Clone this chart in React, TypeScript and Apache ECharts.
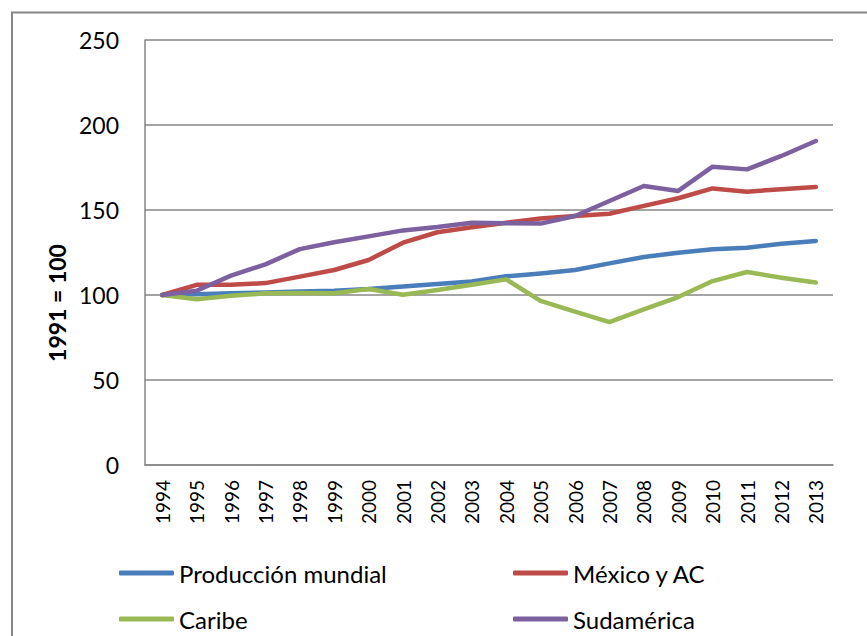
import React, { useEffect, useRef } from "react";
import * as echarts from "echarts";

const years = ["1994","1995","1996","1997","1998","1999","2000","2001","2002","2003","2004","2005","2006","2007","2008","2009","2010","2011","2012","2013"];
const produccionMundial = [100, 100.5, 101, 101.5, 102, 102.5, 103.5, 105, 106.5, 108, 111, 112.7, 114.7, 118.6, 122.4, 124.9, 126.9, 127.8, 130.2, 131.8];
const mexicoYAC = [100, 106, 106, 107, 110.8, 114.7, 120.6, 130.8, 136.9, 139.8, 142.5, 145, 146.5, 147.8, 152.4, 156.9, 162.7, 160.8, 162.2, 163.5];
const caribe = [100, 97.5, 99.5, 101, 101.2, 101, 103.5, 100.2, 103, 106, 109.2, 96.5, 90.2, 84.1, 91.6, 98.8, 108.2, 113.5, 110.2, 107.3];
const sudamerica = [100, 102.5, 111.4, 118, 127, 131, 134.5, 138, 140, 142.5, 142.2, 142, 146.5, 155.3, 164.1, 161.2, 175.5, 173.9, 181.8, 190.6];
const yTicks = { min: 0, max: 250, interval: 50 };
const yTitle = "1991 = 100";

const names = ["Producción mundial", "México y AC", "Caribe", "Sudamérica"];
const colors = ["#4a7ebb", "#be4b48", "#98b954", "#7d60a0"];
const seriesData = [produccionMundial, mexicoYAC, caribe, sudamerica];

export default function App() {
  const ref = useRef<HTMLDivElement>(null);
  useEffect(() => {
    if (!ref.current) return;
    const chart = echarts.init(ref.current, null, { renderer: "svg" });
    const font = "Lato";
    const legendPos = [
      { left: 119, top: 561 },
      { left: 513, top: 561 },
      { left: 119, top: 607 },
      { left: 513, top: 607 },
    ];
    chart.setOption({
      animation: false,
      backgroundColor: "#ffffff",
      textStyle: { fontFamily: font },
      grid: { left: 145, right: 34, top: 40, bottom: 171, containLabel: false },
      legend: names.map((n, i) => ({
        data: [n],
        left: legendPos[i].left,
        top: legendPos[i].top,
        padding: 0,
        icon: "roundRect",
        itemWidth: 55,
        itemHeight: 5,
        textStyle: { fontFamily: font, fontSize: 24, color: "#000" },
      })),
      xAxis: {
        type: "category",
        data: years,
        boundaryGap: true,
        axisLine: { show: true, lineStyle: { color: "#868686", width: 1.5 } },
        axisTick: { show: false },
        axisLabel: { rotate: 90, margin: 15, fontFamily: font, fontSize: 19, color: "#000" },
        splitLine: { show: false },
      },
      yAxis: {
        type: "value",
        min: yTicks.min,
        max: yTicks.max,
        interval: yTicks.interval,
        axisLine: { show: true, lineStyle: { color: "#868686", width: 1.5 } },
        axisTick: { show: false },
        axisLabel: { margin: 26, fontFamily: font, fontSize: 23, color: "#000" },
        splitLine: { show: true, lineStyle: { color: "#868686", width: 1.5 } },
      },
      graphic: [
        {
          type: "rect",
          shape: { x: 12, y: 12.5, width: 900, height: 700 },
          style: { fill: "none", stroke: "#868686", lineWidth: 2 },
          silent: true,
          z: -1,
        },
        {
          type: "text",
          x: 57,
          y: 303,
          rotation: Math.PI / 2,
          style: {
            text: yTitle,
            fontFamily: font,
            fontSize: 23,
            fontWeight: "bold",
            fill: "#000",
            align: "center",
            verticalAlign: "middle",
          },
        },
      ],
      series: names.map((n, i) => ({
        name: n,
        type: "line",
        data: seriesData[i],
        symbol: "none",
        smooth: false,
        color: colors[i],
        lineStyle: { color: colors[i], width: 4.5, cap: "round", join: "round" },
        itemStyle: { color: colors[i] },
      })),
    });
    return () => chart.dispose();
  }, []);
  return (
    <div
      ref={ref}
      style={{ position: "absolute", left: 0, top: 0, width: 867, height: 636 }}
    />
  );
}
